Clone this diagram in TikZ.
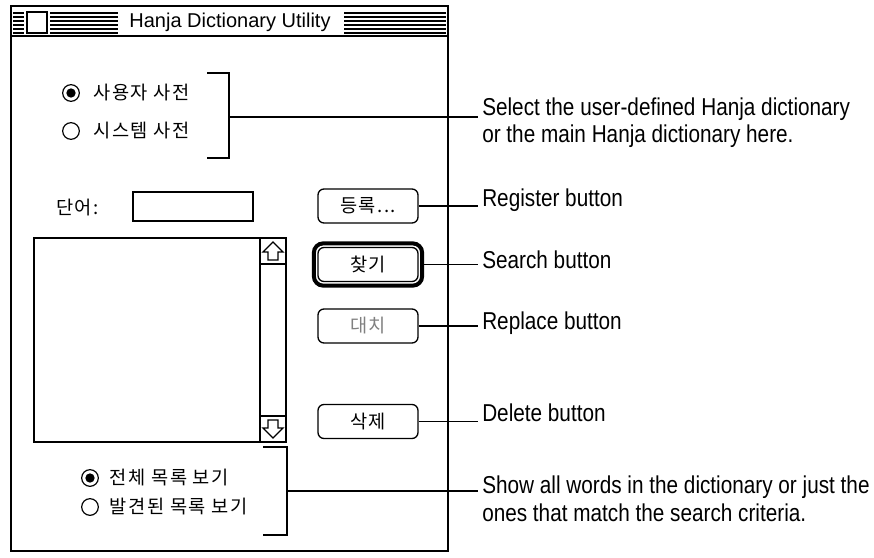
\documentclass[tikz,border=0pt]{standalone}
\usepackage{fontspec}
\setmainfont{Liberation Sans}
\newfontfamily\korfont[LetterSpace=8]{Noto Sans CJK KR}
\newfontfamily\notefont[FakeStretch=0.85]{Liberation Sans}
\usetikzlibrary{positioning}
\tikzset{
  frame/.style={draw, line width=1.5pt},
  stripe/.style={line width=0.9pt},
  thin/.style={line width=1pt},
  korean/.style={font=\korfont\fontsize{14}{16}\selectfont},
  btn/.style={draw, thin, rounded corners=4.5pt, minimum width=75pt, minimum height=25.5pt, inner sep=0pt, korean},
  radio/.style={circle, draw, line width=0.9pt, minimum size=12.5pt, inner sep=0pt},
  option/.style={anchor=west, inner sep=0pt, korean},
  note/.style={anchor=west, inner xsep=3pt, inner ysep=0pt, align=left, font=\notefont\fontsize{18.3}{20.8}\selectfont},
  leader/.style={line width=0.8pt},
}
\begin{document}
\begin{tikzpicture}[x=0.75pt,y=-0.75pt]
\useasboundingbox (0,0) rectangle (874,557);

% window and title bar
\draw[frame] (11,6) rectangle (448,551);
\draw[frame] (11,36) -- (448,36);
\foreach \k in {0,...,5}{
  \draw[stripe] (13,13+4*\k) -- (24,13+4*\k);
  \draw[stripe] (50,13+4*\k) -- (118,13+4*\k);
  \draw[stripe] (344,13+4*\k) -- (446,13+4*\k);
}
\draw[thin] (27,12) rectangle (47,33);
\node[font=\fontsize{15}{18}\selectfont] (title) at (230,22) {Hanja Dictionary Utility};

% dictionary choice
\node[radio] (userdict) at (71,93) {};
\fill (userdict) circle (3.5pt);
\node[radio] (sysdict) at (71,131) {};
\node[option, right=10pt of userdict] (usertxt) {사용자 사전};
\node[option, right=10pt of sysdict] (systxt) {시스템 사전};
\draw[thin] (207,73) -| (229,158) -- (207,158);
\coordinate (dictmid) at (229,117);

% word field
\node[option] (wordlbl) at (56,208) {단어:};
\draw[thin] (133,192) rectangle (253,221);

% list with scroll bar
\draw[thin] (34,238) rectangle (286,442);
\draw[thin] (260,238) -- (260,442);
\draw[thin] (260,264) -- (286,264);
\draw[thin] (260,416) -- (286,416);
\draw[thin] (273,242) -- (263,252) -- (268,252) -- (268,260) -- (278,260) -- (278,252) -- (283,252) -- cycle;
\draw[thin] (273,438) -- (263,428) -- (268,428) -- (268,420) -- (278,420) -- (278,428) -- (283,428) -- cycle;

% buttons
\node[btn] (reg) at (368,206) {등록...};
\node[btn] (find) at (368,264.5) {찾기};
\draw[line width=3pt, rounded corners=7pt] ([xshift=-2.6pt,yshift=2.6pt]find.north west) rectangle ([xshift=2.6pt,yshift=-2.6pt]find.south east);
\node[btn, text=gray] (repl) at (368,326) {대치};
\node[btn] (del) at (368,421.5) {삭제};

% list choice
\node[radio] (allwords) at (90,478) {};
\fill (allwords) circle (3.5pt);
\node[radio] (found) at (90,507) {};
\node[option, right=8pt of allwords] (alltxt) {전체 목록 보기};
\node[option, right=8pt of found] (foundtxt) {발견된 목록 보기};
\draw[thin] (263,447) -| (287,535) -- (263,535);
\coordinate (listmid) at (287,491);

% callouts
\node[note] (dictnote) at (478,122.6) {Select the user-defined Hanja dictionary\\or the main Hanja dictionary here.};
\node[note] (regnote) at (478,199.7) {Register button};
\node[note] (findnote) at (478,260) {Search button};
\node[note] (replnote) at (478,323) {Replace button};
\node[note] (delnote) at (478,413) {Delete button};
\node[note] (listnote) at (478,499) {Show all words in the dictionary or just the\\ones that match the search criteria.};

\draw[leader] (dictmid) -- (dictmid -| dictnote.west);
\draw[leader] (reg.east) -- (reg.east -| regnote.west);
\draw[leader] ([xshift=2.6pt]find.east) -- (find.east -| findnote.west);
\draw[leader] (repl.east) -- (repl.east -| replnote.west);
\draw[leader] (del.east) -- (del.east -| delnote.west);
\draw[leader] (listmid) -- (listmid -| listnote.west);
\end{tikzpicture}
\end{document}
